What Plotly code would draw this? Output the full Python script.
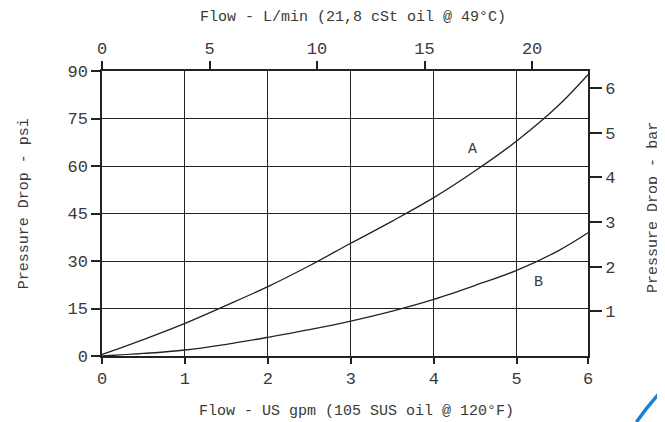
"""
Curvas de caída de presión (psi / bar) frente a caudal (US gpm / L/min).
"""
import plotly.graph_objects as go

# =============================================================================
# DATOS
# =============================================================================
GPM = [0, 0.5, 1, 1.5, 2, 2.5, 3, 3.5, 4, 4.5, 5, 5.5, 5.86]
PSI_A = [0.5, 5.2, 10.3, 16.0, 21.9, 28.5, 35.6, 42.6, 50.0, 58.5, 67.9, 79.0, 88.8]
PSI_B = [0.0, 0.8, 1.9, 3.7, 5.9, 8.3, 11.05, 14.2, 17.9, 22.3, 27.05, 33.2, 38.9]

X_MAX = 5.86                      # borde derecho del gráfico (etiquetado "6")
X_TICKS = [0, 1, 2, 3, 4, 5, X_MAX]
X_TICK_LABELS = ["0", "1", "2", "3", "4", "5", "6"]

LPM_MAX = 22.6
LPM_TICKS = [0, 5, 10, 15, 20]

PSI_MAX = 90
PSI_TICKS = [0, 15, 30, 45, 60, 75, 90]

BAR_MAX = 6.38
BAR_TICKS = [1, 2, 3, 4, 5, 6]

ETIQUETAS = {"A": (4.47, 65.3), "B": (5.26, 23.1)}

# =============================================================================
# ESTILO
# =============================================================================
FUENTE = "Liberation Mono"
TEXTO = "#3a3a3a"
LINEA = "#222222"

fig = go.Figure()
for psi in (PSI_A, PSI_B):
    fig.add_scatter(x=GPM, y=psi, mode="lines", line=dict(color=LINEA, width=1.3, shape="spline"),
                    hoverinfo="skip", showlegend=False)
# traza invisible para activar los ejes secundarios
fig.add_scatter(x=[0], y=[0], xaxis="x2", yaxis="y2", mode="markers",
                marker=dict(opacity=0), hoverinfo="skip", showlegend=False)

for nombre, (x, y) in ETIQUETAS.items():
    fig.add_annotation(x=x, y=y, text=nombre, showarrow=False,
                       font=dict(family=FUENTE, size=15, color=TEXTO))

eje = dict(showline=True, linecolor=LINEA, linewidth=1.5, ticks="outside", tickcolor=LINEA,
           tickwidth=1.5, zeroline=False, automargin=False,
           tickfont=dict(family=FUENTE, size=17, color=TEXTO))

# la página tiene 8 px de margen en el body: el gráfico se desplaza (8, 8)
fig.update_layout(
    width=657, height=414,
    margin=dict(l=94, r=77, t=63, b=66),
    paper_bgcolor="white", plot_bgcolor="white",
    xaxis=dict(eje, range=[0, X_MAX], tickvals=X_TICKS, ticktext=X_TICK_LABELS, ticklen=6,
               showgrid=True, gridcolor=LINEA, gridwidth=1.4),
    yaxis=dict(eje, range=[0, PSI_MAX], tickvals=PSI_TICKS, ticklen=9,
               showgrid=True, gridcolor=LINEA, gridwidth=1.4),
    xaxis2=dict(eje, overlaying="x", side="top", anchor="y", range=[0, LPM_MAX],
                tickvals=LPM_TICKS, ticklen=8, showgrid=False),
    yaxis2=dict(eje, overlaying="y", side="right", anchor="x", range=[0, BAR_MAX],
                tickvals=BAR_TICKS, ticklen=12, showgrid=False),
)

titulos = [
    ("Flow - L/min (21,8 cSt oil @ 49°C)", 0.516, 1.186, 0),
    ("Flow - US gpm (105 SUS oil @ 120°F)", 0.524, -0.193, 0),
    ("Pressure Drop - psi", -0.160, 0.533, -90),
    ("Pressure Drop - bar", 1.136, 0.52, -90),
]
for texto, x, y, ang in titulos:
    fig.add_annotation(text=texto, xref="paper", yref="paper", x=x, y=y, showarrow=False,
                       xanchor="center", yanchor="middle", textangle=ang,
                       font=dict(family=FUENTE, size=15, color=TEXTO))

# trazo azul del logotipo en la esquina inferior derecha
fig.add_shape(type="path", xref="paper", yref="paper",
              path="M 1.0997 -0.2316 Q 1.125 -0.17 1.157 -0.112",
              line=dict(color="#1a7fd4", width=3.5))

fig.write_html("out.html")
